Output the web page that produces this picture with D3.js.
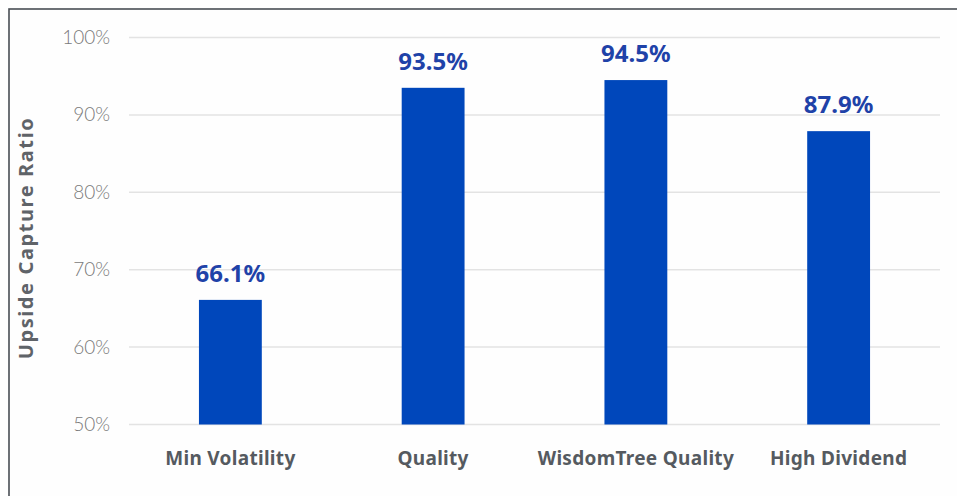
<!DOCTYPE html>
<html><head><meta charset="utf-8">
<script src="https://cdn.jsdelivr.net/npm/d3@7"></script>
<style>body{margin:0;background:#fff}svg{display:block}</style>
</head><body>
<script>
const categories = ["Min Volatility", "Quality", "WisdomTree Quality", "High Dividend"];
const values = [66.1, 93.5, 94.5, 87.9];
const tickValues = [50, 60, 70, 80, 90, 100];
const yTitle = "Upside Capture Ratio";

const W = 957, H = 496;
const m = {left: 129, right: 17, top: 37.5, bottom: 71.5};
const svg = d3.select("body").append("svg").attr("width", W).attr("height", H);

// frame
svg.append("rect").attr("x", 9).attr("y", 9).attr("width", W + 10).attr("height", H + 10)
  .attr("fill", "#fefefe").attr("stroke", "#4a4f55").attr("stroke-width", 1.6);

const x = d3.scaleBand().domain(categories).range([m.left, W - m.right]).paddingInner(0.69).paddingOuter(0.345);
const y = d3.scaleLinear().domain([50, 100]).range([H - m.bottom, m.top]);

// gridlines
svg.append("g").selectAll("line").data(tickValues).join("line")
  .attr("x1", m.left).attr("x2", W - m.right)
  .attr("y1", d => y(d)).attr("y2", d => y(d))
  .attr("stroke", "#e3e3e3").attr("stroke-width", 1.5);

// y axis labels
const yAxis = d3.axisLeft(y).tickValues(tickValues).tickFormat(d => d + "%").tickSize(0).tickPadding(19);
const gy = svg.append("g").attr("transform", `translate(${m.left},0)`).call(yAxis);
gy.select(".domain").remove();
gy.selectAll("text").attr("fill", "#7a7a7a").style("font-family", "Lato, sans-serif")
  .style("font-weight", 300).style("font-size", "19px");

// x axis labels
const xAxis = d3.axisBottom(x).tickSize(0).tickPadding(27);
const gx = svg.append("g").attr("transform", `translate(0,${H - m.bottom})`).call(xAxis);
gx.select(".domain").remove();
gx.selectAll("text").attr("fill", "#555a60").style("font-family", "'Noto Sans', sans-serif")
  .style("font-weight", 700).style("font-size", "19px").style("letter-spacing", "0.3px");

// bars
svg.append("g").selectAll("rect").data(values).join("rect")
  .attr("x", (d, i) => x(categories[i])).attr("width", x.bandwidth())
  .attr("y", d => y(d)).attr("height", d => y(50) - y(d))
  .attr("fill", "#0047bb");

// value labels
svg.append("g").selectAll("text").data(values).join("text")
  .attr("x", (d, i) => x(categories[i]) + x.bandwidth() / 2)
  .attr("y", d => y(d) - 18)
  .attr("text-anchor", "middle")
  .attr("fill", "#1f42a8")
  .style("font-family", "'Noto Sans', sans-serif").style("font-weight", 700).style("font-size", "24px")
  .text(d => d.toFixed(1) + "%");

// y title
svg.append("text").attr("transform", `translate(33,238) rotate(-90)`)
  .attr("text-anchor", "middle").attr("fill", "#5f6368")
  .style("font-family", "'Noto Sans', sans-serif").style("font-weight", 700).style("font-size", "20px")
  .style("letter-spacing", "1.6px")
  .text(yTitle);
</script>
</body></html>
